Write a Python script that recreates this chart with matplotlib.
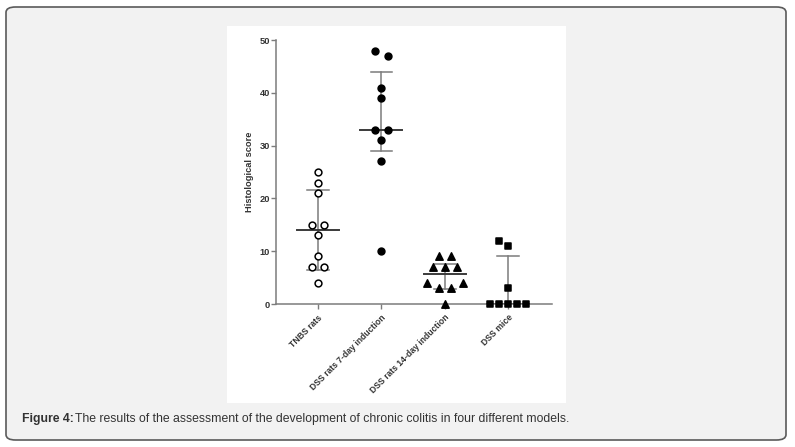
import matplotlib.pyplot as plt
from matplotlib.patches import FancyBboxPatch, Rectangle

# groups and raw scores (with horizontal jitter offsets, in category units)
groups = ["TNBS rats", "DSS rats 7-day induction", "DSS rats 14-day induction", "DSS mice"]

tnbs_scores = [25, 23, 21, 15, 15, 13, 9, 7, 7, 4]
tnbs_offsets = [0, 0, 0, -0.1, 0.1, 0, 0, -0.1, 0.1, 0]

dss7_scores = [48, 47, 41, 39, 33, 33, 31, 27, 10]
dss7_offsets = [-0.1, 0.1, 0, 0, -0.1, 0.1, 0, 0, 0]

dss14_scores = [9, 9, 7, 7, 7, 4, 4, 3, 3, 0]
dss14_offsets = [-0.095, 0.095, -0.19, 0, 0.19, -0.28, 0.28, -0.095, 0.095, 0]

mice_scores = [12, 11, 3, 0, 0, 0, 0, 0]
mice_offsets = [-0.14, 0, 0, -0.28, -0.14, 0, 0.14, 0.28]

# centre line and error bar ends for each group
centre = [14, 33, 5.6, 0]
upper = [21.5, 44, 7.5, 9]
lower = [6.5, 29, 2.9, 0]

fig = plt.figure(figsize=(7.95, 4.47), dpi=100)
W, H = 795, 447

# page frame
frame = FancyBboxPatch((6 / W, 7 / H), 780 / W, 433 / H,
                       boxstyle="round,pad=0,rounding_size=0.012",
                       transform=fig.transFigure, facecolor="#f2f2f2",
                       edgecolor="#5a5a5a", linewidth=1.2, zorder=-5)
fig.patches.append(frame)
panel = Rectangle((227 / W, 1 - 403 / H), 339 / W, 377 / H,
                  transform=fig.transFigure, facecolor="white",
                  edgecolor="none", zorder=-4)
fig.patches.append(panel)

ax = fig.add_axes([276 / W, 1 - 304 / H, 276 / W, 264 / H])
ax.set_facecolor("none")

series = [
    (tnbs_scores, tnbs_offsets, "o", "white"),
    (dss7_scores, dss7_offsets, "o", "black"),
    (dss14_scores, dss14_offsets, "^", "black"),
    (mice_scores, mice_offsets, "s", "black"),
]

line_col = "#7c7c7c"
for i, (scores, offs, mk, fc) in enumerate(series):
    ax.plot([i, i], [lower[i], upper[i]], color=line_col, lw=1.1, zorder=2)
    ax.plot([i - 0.17, i + 0.17], [upper[i], upper[i]], color=line_col, lw=1.1, zorder=2)
    ax.plot([i - 0.17, i + 0.17], [lower[i], lower[i]], color=line_col, lw=1.1, zorder=2)
    ax.plot([i - 0.33, i + 0.33], [centre[i], centre[i]], color="#3a3a3a", lw=1.4, zorder=2)
    xs = [i + o for o in offs]
    ax.scatter(xs, scores, marker=mk, s=24 if mk != "^" else 28, facecolor=fc,
               edgecolor="black", linewidths=1.1, zorder=3, clip_on=False)

ax.set_xlim(-0.66, 3.69)
ax.set_ylim(0, 50)
ax.set_yticks([0, 10, 20, 30, 40, 50])
ax.set_xticks(range(len(groups)))
ax.set_xticklabels(groups, rotation=45, ha="right", va="top",
                   rotation_mode="anchor", fontsize=6.2, fontweight="bold",
                   color="#333333", family="Liberation Sans")
for lab in ax.get_yticklabels():
    lab.set_fontsize(6.7)
    lab.set_fontweight("bold")
    lab.set_color("#333333")
    lab.set_family("Liberation Sans")
ax.tick_params(axis="both", length=3.5, width=1, color=line_col, pad=1)
ax.tick_params(axis="x", pad=3)
for side in ["top", "right"]:
    ax.spines[side].set_visible(False)
for side in ["left", "bottom"]:
    ax.spines[side].set_color(line_col)
    ax.spines[side].set_linewidth(1.1)
ax.set_ylabel("Histological score", fontsize=6.7, fontweight="bold",
              color="#333333", family="Liberation Sans", labelpad=4)

fig.text(22 / W, 1 - 419 / H, "Figure 4:", fontsize=8.8, fontweight="bold",
         color="#333333", va="center", family="Liberation Sans")
fig.text(75 / W, 1 - 419 / H,
         "The results of the assessment of the development of chronic colitis in four different models.",
         fontsize=8.8, color="#333333", va="center", family="Liberation Sans")

fig.savefig("out.png", dpi=100)
